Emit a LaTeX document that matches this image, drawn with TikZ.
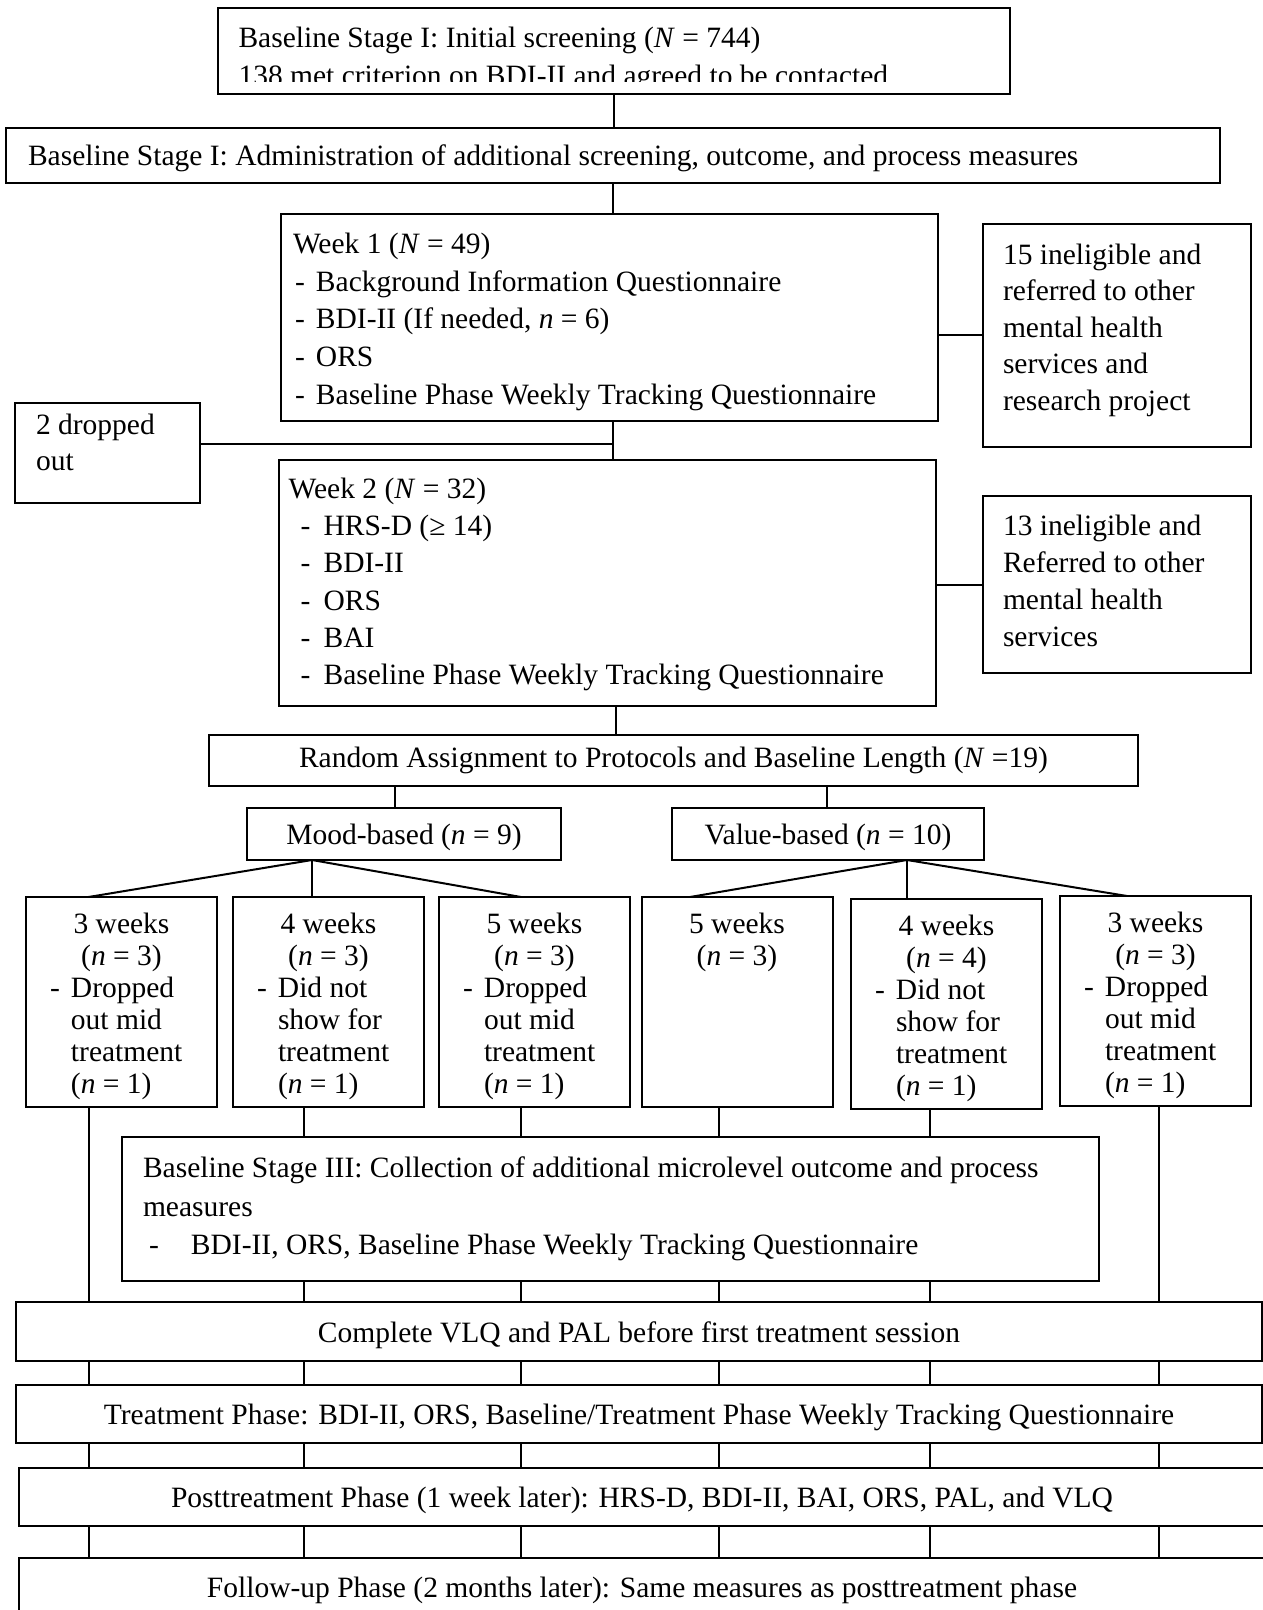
\documentclass[tikz,border=0pt]{standalone}
\usepackage{fontspec}
\setmainfont{Liberation Serif}
\usetikzlibrary{positioning}

\newlength\pxu
\setlength\pxu{0.4pt}
% text block of a box: height, width, top gap, contents
\newcommand\boxtext[4]{\parbox[c][#1\pxu][t]{#2\pxu}{\vspace*{#3\pxu}#4}}

\begin{document}
\begin{tikzpicture}[
  x=0.4pt, y=-0.4pt,
  box/.style={rectangle, draw, line width=0.8pt, inner sep=0pt, outer sep=0pt,
              font=\fontsize{11.8}{15.1}\selectfont},
  sidebox/.style={box, minimum width=268\pxu, font=\fontsize{11.8}{14.6}\selectfont},
  armbox/.style={box, minimum width=191\pxu, minimum height=210\pxu,
                 font=\fontsize{11.8}{12.8}\selectfont},
  stripbox/.style={box, minimum width=1246\pxu, minimum height=58\pxu, low},
  low/.style={text height=11pt, text depth=2.5pt},
  link/.style={line width=0.8pt}
]
\useasboundingbox (0,0) rectangle (1262,1610);

% screening stages
\node[box, minimum width=792\pxu, minimum height=86\pxu] (scr) at (614,51) {};
\begin{scope}
  \clip (scr.north west) rectangle (1010,82);
  \node[anchor=base west, inner sep=0pt, font=\fontsize{11.8}{15.2}\selectfont]
    (scrtxt) at (238,48)
    {\parbox[t]{740\pxu}{Baseline Stage I: Initial screening (\textit{N} = 744)\\
     138 met criterion on BDI-II and agreed to be contacted}};
\end{scope}
\node[box, low, minimum width=1214\pxu, minimum height=55\pxu] (adm) at (613,155.5)
  {\parbox{1214\pxu}{\leftskip=22\pxu
   Baseline Stage I: Administration of additional screening, outcome, and process measures}};

% week 1 and week 2
\node[box, minimum width=657\pxu, minimum height=207\pxu] (wk1) at (609.5,317.5)
  {\boxtext{207}{657}{19}{\leftskip=12\pxu
   Week 1 (\textit{N} = 49)\\
   \hspace*{2\pxu}\makebox[21\pxu][l]{-}Background Information Questionnaire\\
   \hspace*{2\pxu}\makebox[21\pxu][l]{-}BDI-II (If needed, \textit{n} = 6)\\
   \hspace*{2\pxu}\makebox[21\pxu][l]{-}ORS\\
   \hspace*{2\pxu}\makebox[21\pxu][l]{-}Baseline Phase Weekly Tracking Questionnaire}};
\node[sidebox, minimum height=223\pxu] (inel1) at (1117,335.5)
  {\boxtext{223}{268}{20}{\leftskip=20\pxu
   15 ineligible and\\referred to other\\mental health\\services and\\research project}};
\node[box, minimum width=185\pxu, minimum height=100\pxu,
      font=\fontsize{11.8}{14.4}\selectfont] (drp) at (107.5,453)
  {\boxtext{100}{185}{11}{\leftskip=21\pxu 2 dropped\\out}};

\node[box, minimum width=657\pxu, minimum height=246\pxu,
      font=\fontsize{11.8}{14.9}\selectfont] (wk2) at (607.5,583)
  {\boxtext{246}{657}{18}{\leftskip=9.6\pxu
   Week 2 (\textit{N} = 32)\\
   \hspace*{12\pxu}\makebox[23\pxu][l]{-}HRS-D (≥ 14)\\
   \hspace*{12\pxu}\makebox[23\pxu][l]{-}BDI-II\\
   \hspace*{12\pxu}\makebox[23\pxu][l]{-}ORS\\
   \hspace*{12\pxu}\makebox[23\pxu][l]{-}BAI\\
   \hspace*{12\pxu}\makebox[23\pxu][l]{-}Baseline Phase Weekly Tracking Questionnaire}};
\node[sidebox, minimum height=177\pxu, font=\fontsize{11.8}{14.8}\selectfont] (inel2) at (1117,584.5)
  {\boxtext{177}{268}{19}{\leftskip=20\pxu
   13 ineligible and\\Referred to other\\mental health\\services}};

% assignment
\node[box, minimum width=929\pxu, minimum height=51\pxu] (rnd) at (673.5,760.5)
  {Random Assignment to Protocols and Baseline Length (\textit{N} =19)};
\node[box, low, minimum width=314\pxu, minimum height=52\pxu] (mood) at (404,834)
  {Mood-based (\textit{n} = 9)};
\node[box, low, minimum width=312\pxu, minimum height=52\pxu] (val) at (828,834)
  {Value-based (\textit{n} = 10)};

% baseline lengths
\node[armbox] (c1) at (121.5,1002)
  {\boxtext{210}{191}{16}{{\centering 3 weeks\\(\textit{n} = 3)\par}
   \hspace*{24\pxu}\makebox[21\pxu][l]{-}Dropped\\
   \hspace*{45\pxu}out mid\\ \hspace*{45\pxu}treatment\\ \hspace*{45\pxu}(\textit{n} = 1)}};
\node[armbox] (c2) at (328.5,1002)
  {\boxtext{210}{191}{16}{{\centering 4 weeks\\(\textit{n} = 3)\par}
   \hspace*{24\pxu}\makebox[21\pxu][l]{-}Did not\\
   \hspace*{45\pxu}show for\\ \hspace*{45\pxu}treatment\\ \hspace*{45\pxu}(\textit{n} = 1)}};
\node[armbox] (c3) at (534.5,1002)
  {\boxtext{210}{191}{16}{{\centering 5 weeks\\(\textit{n} = 3)\par}
   \hspace*{24\pxu}\makebox[21\pxu][l]{-}Dropped\\
   \hspace*{45\pxu}out mid\\ \hspace*{45\pxu}treatment\\ \hspace*{45\pxu}(\textit{n} = 1)}};
\node[armbox] (c4) at (737,1002)
  {\boxtext{210}{191}{16}{{\centering 5 weeks\\(\textit{n} = 3)\par}}};
\node[armbox] (c5) at (946.5,1004)
  {\boxtext{210}{191}{16}{{\centering 4 weeks\\(\textit{n} = 4)\par}
   \hspace*{24\pxu}\makebox[21\pxu][l]{-}Did not\\
   \hspace*{45\pxu}show for\\ \hspace*{45\pxu}treatment\\ \hspace*{45\pxu}(\textit{n} = 1)}};
\node[armbox] (c6) at (1155.5,1001)
  {\boxtext{210}{191}{16}{{\centering 3 weeks\\(\textit{n} = 3)\par}
   \hspace*{24\pxu}\makebox[21\pxu][l]{-}Dropped\\
   \hspace*{45\pxu}out mid\\ \hspace*{45\pxu}treatment\\ \hspace*{45\pxu}(\textit{n} = 1)}};

\node[box, minimum width=977\pxu, minimum height=144\pxu,
      font=\fontsize{11.8}{15.4}\selectfont] (st3) at (610.5,1209)
  {\boxtext{144}{977}{20}{\leftskip=21\pxu
   Baseline Stage III: Collection of additional microlevel outcome and process\\
   measures\\
   \hspace*{6\pxu}\makebox[42\pxu][l]{-}BDI-II, ORS, Baseline Phase Weekly Tracking Questionnaire}};

% treatment and follow-up
\node[stripbox, minimum height=59\pxu] (cmp) at (639,1331.5)
  {Complete VLQ and PAL before first treatment session};
\node[stripbox] (trt) at (639,1414)
  {Treatment Phase: BDI-II, ORS, Baseline/Treatment Phase Weekly Tracking Questionnaire};
\node[stripbox] (pst) at (642,1497)
  {Posttreatment Phase (1 week later): HRS-D, BDI-II, BAI, ORS, PAL, and VLQ};
\node[stripbox] (fup) at (642,1587)
  {Follow-up Phase (2 months later): Same measures as posttreatment phase};

% connectors
\draw[link] (scr.south) -- (scr.south |- adm.north);
\draw[link] (adm.south) -- (adm.south |- wk1.north);
\draw[link] (wk1.south -| adm.south) -- (wk2.north -| adm.south);
\coordinate (dj) at (613,444);
\draw[link] (drp.east |- dj) -- (dj);
\draw[link] (wk1.east |- inel1.west) -- (inel1.west);
\draw[link] (wk2.east |- inel2.west) -- (inel2.west);
\draw[link] (wk2.south -| 616,0) -- (rnd.north -| 616,0);
\draw[link] (rnd.south -| 395,0) -- (mood.north -| 395,0);
\draw[link] (rnd.south -| 827,0) -- (val.north -| 827,0);

\coordinate (mj) at (mood.south -| 312,0);
\draw[link] (mj) -- (c1.north -| 88.5,0);
\draw[link] (mj) -- (c2.north -| 312,0);
\draw[link] (mj) -- (c3.north -| 521,0);
\coordinate (vj) at (val.south -| 907,0);
\draw[link] (vj) -- (c4.north -| 690,0);
\draw[link] (vj) -- (c5.north -| 907,0);
\draw[link] (vj) -- (c6.north -| 1127,0);

\foreach \i/\x in {1/88.5, 6/1159}
  \draw[link] (c\i.south -| \x,0) -- (cmp.north -| \x,0);
\foreach \i/\x in {2/304, 3/521, 4/719, 5/930} {
  \draw[link] (c\i.south -| \x,0) -- (st3.north -| \x,0);
  \draw[link] (st3.south -| \x,0) -- (cmp.north -| \x,0);
}
\foreach \x in {88.5, 304, 521, 719, 930, 1159} {
  \draw[link] (cmp.south -| \x,0) -- (trt.north -| \x,0);
  \draw[link] (trt.south -| \x,0) -- (pst.north -| \x,0);
  \draw[link] (pst.south -| \x,0) -- (fup.north -| \x,0);
}
\end{tikzpicture}
\end{document}
